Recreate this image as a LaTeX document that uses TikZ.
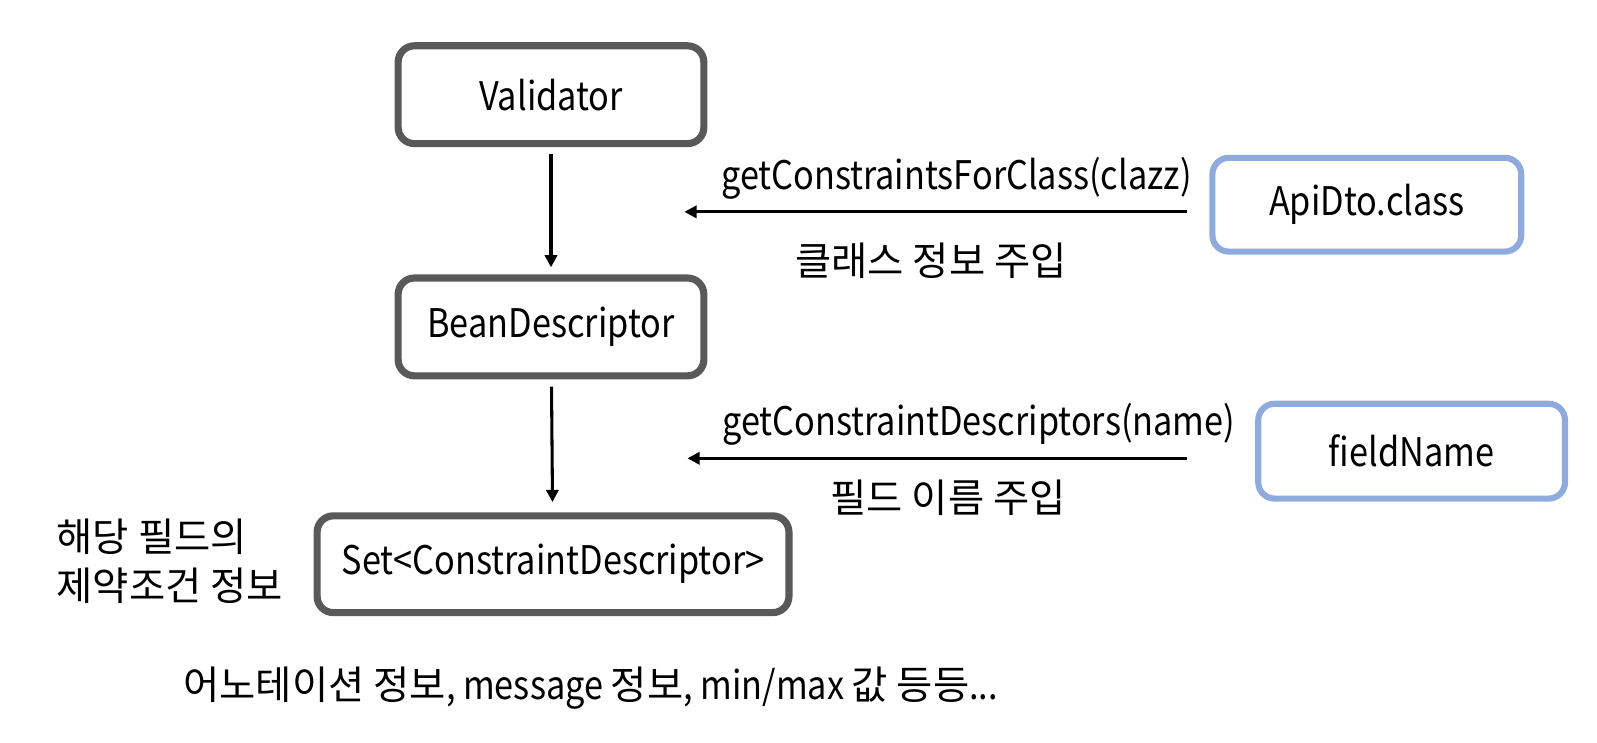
\documentclass[tikz,border=0pt]{standalone}
\usepackage{fontspec}
\setmainfont[FakeStretch=0.87]{Noto Sans CJK KR}
\newfontfamily\kr{Noto Sans CJK KR}
\usepackage{xcolor}
\usetikzlibrary{arrows.meta}

\definecolor{boxgray}{HTML}{595959}
\definecolor{boxblue}{HTML}{8FAADC}

\begin{document}
\begin{tikzpicture}[x=0.01cm, y=-0.01cm,
    every node/.style={font=\fontsize{11}{13.7}\selectfont},
    graybox/.style={draw=boxgray, line width=0.07cm, rounded corners=0.16cm, fill=white,
      minimum width=3cm, minimum height=0.96cm, inner sep=0pt},
    bluebox/.style={draw=boxblue, line width=0.06cm, rounded corners=0.16cm, fill=white,
      minimum width=3cm, minimum height=0.93cm, inner sep=0pt},
    arr/.style={-{Triangle[length=0.12cm, width=0.12cm]}, line width=0.03cm}]
  % Fix the page size
  \useasboundingbox (0,0) rectangle (1568,728.6);

  % Main chain of boxes
  \node[graybox] (val) at (541,93) {Validator};
  \node[graybox] (bean) at (541,321) {BeanDescriptor};
  \node[graybox, minimum width=4.63cm, minimum height=0.95cm] (cset) at (543,554) {Set<ConstraintDescriptor>};

  % Inputs on the right
  \node[bluebox, minimum width=3.03cm, minimum height=0.92cm] (api) at (1342,201) {ApiDto.class};
  \node[bluebox, minimum width=3.01cm] (fld) at (1386,443) {fieldName};

  % Arrows down
  \draw[arr, shorten <=0.07cm, shorten >=0.07cm] (val) -- (bean);
  \draw[arr, shorten <=0.07cm, shorten >=0.1cm] (bean) -- (cset);

  % Arrows to the left
  \coordinate (tipA) at (672,208);
  \coordinate (tipB) at (675,450);
  \draw[arr, shorten <=0.22cm] (api.west |- tipA) -- (tipA);
  \draw[arr, shorten <=0.67cm] (fld.west |- tipB) -- (tipB);

  % Labels
  \node (callA) at (939,175) {getConstraintsForClass(clazz)};
  \node (noteA) at (914,256) {\kr 클래스 정보 주입};
  \node (callB) at (961,417) {getConstraintDescriptors(name)};
  \node (noteB) at (931,489) {\kr 필드 이름 주입};
  \node[anchor=west, align=left, inner sep=0pt, font=\fontsize{11}{13.7}\selectfont\kr] (info) at (55,551) {해당 필드의\\제약조건 정보};
  \node (extra) at (580,676) {{\kr 어노테이션 정보}, message {\kr 정보}, min/max {\kr 값 등등}...};
\end{tikzpicture}
\end{document}
